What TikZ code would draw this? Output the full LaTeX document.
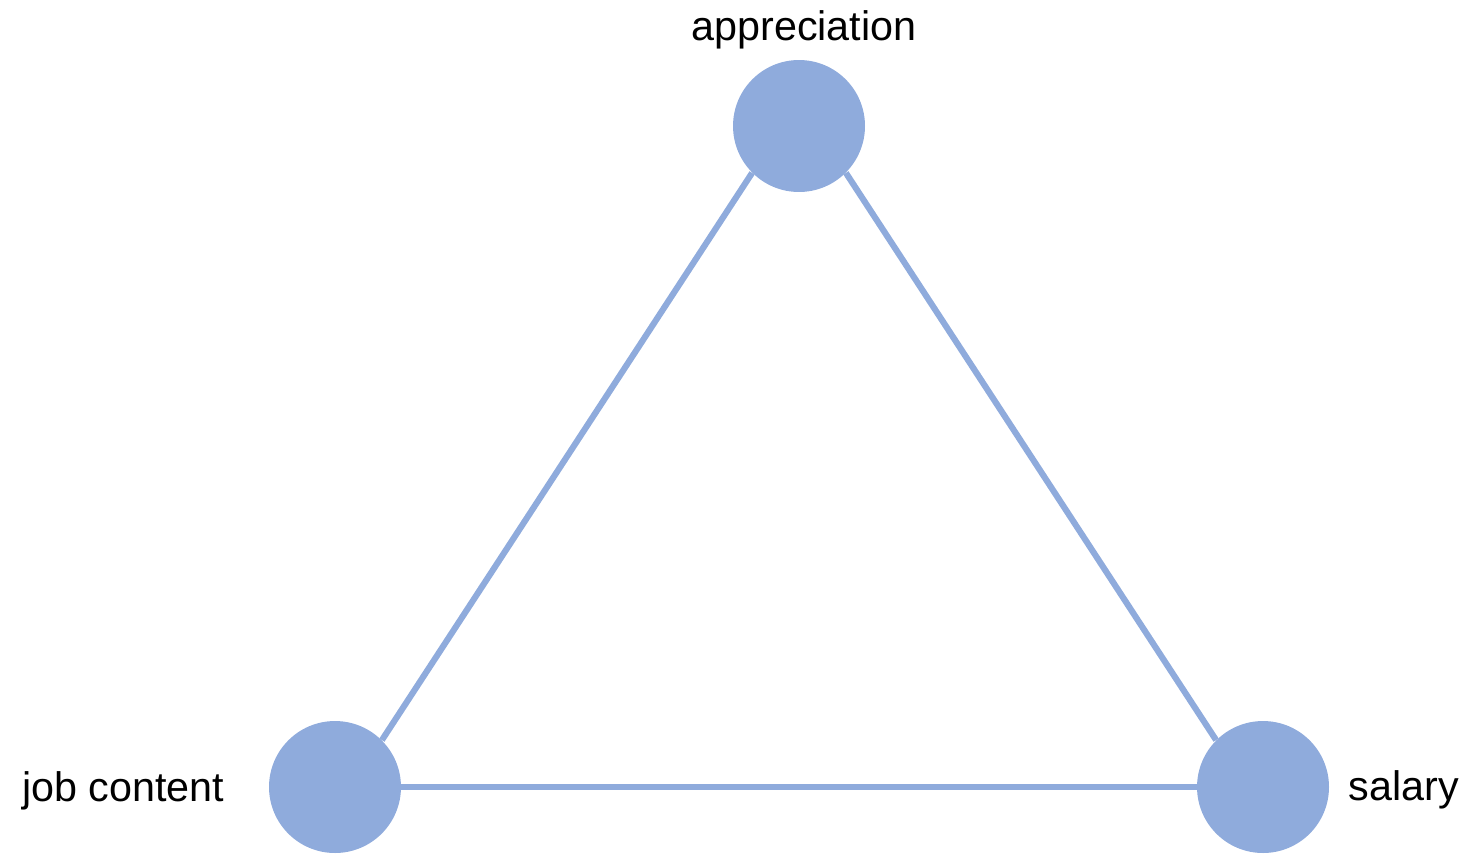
\documentclass[tikz,border=0pt]{standalone}
\usepackage{fontspec}
\setmainfont{Liberation Sans}
\usetikzlibrary{positioning}
\definecolor{factorBlue}{RGB}{143,171,220}
\tikzset{
  factor/.style={circle,fill=factorBlue,minimum size=2.64cm,inner sep=0pt},
  factorlabel/.style={inner sep=0pt,font=\fontsize{23.5}{28}\selectfont},
  link/.style={draw=factorBlue,line width=3.5pt}
}
\begin{document}
\begin{tikzpicture}[x=0.02cm,y=-0.02cm]
  \useasboundingbox (0,0) rectangle (1466,853);
  % the three factors
  \node[factor] (app) at (799,126) {};
  \node[factor] (job) at (335,787) {};
  \node[factor] (sal) at (1263,787) {};
  \node[factorlabel,above=0.2cm of app,xshift=0.1cm] (appL) {appreciation};
  \node[factorlabel,left=0.88cm of job,yshift=-0.08cm] (jobL) {job content};
  \node[factorlabel,right=0.38cm of sal,yshift=-0.06cm] (salL) {salary};
  % edges of the triangle
  \draw[link] (app.south west) -- (job.north east);
  \draw[link] (app.south east) -- (sal.north west);
  \draw[link] (job.east) -- (sal.west);
\end{tikzpicture}
\end{document}
